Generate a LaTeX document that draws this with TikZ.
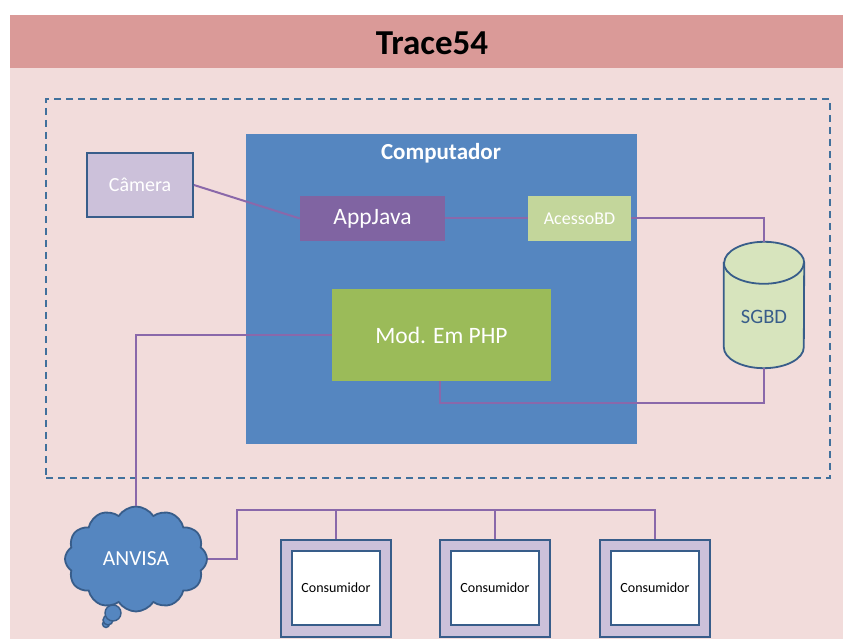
\documentclass[tikz,border=0pt]{standalone}
\usepackage{fontspec}
\setmainfont{Carlito}
\usetikzlibrary{shapes.symbols}
\definecolor{hdr}{HTML}{DA9A98}
\definecolor{bgp}{HTML}{F2DCDB}
\definecolor{dash}{HTML}{41719C}
\definecolor{compb}{HTML}{5586C0}
\definecolor{bord}{HTML}{385D8A}
\definecolor{camf}{HTML}{CCC1DA}
\definecolor{appf}{HTML}{8064A2}
\definecolor{accf}{HTML}{C3D69B}
\definecolor{phpf}{HTML}{9BBB59}
\definecolor{sgf}{HTML}{D7E4BD}
\definecolor{wire}{HTML}{8A68AA}
\tikzset{
  box/.style={rectangle, inner sep=0pt, text=white},
  wirel/.style={draw=wire, line width=2pt},
  outerc/.style={rectangle, draw=bord, line width=1.8pt, fill=camf, minimum width=110pt, minimum height=97pt, inner sep=0pt},
  innerc/.style={rectangle, draw=bord, line width=1.8pt, fill=white, minimum width=88pt, minimum height=74pt, inner sep=0pt, font=\fontsize{14}{16}\selectfont},
  bubble/.style={fill=compb, draw=bord, line width=1.4pt},
}
\begin{document}
\begin{tikzpicture}[x=1pt,y=1pt]
\useasboundingbox (0,0) rectangle (843,639);
\fill[white] (0,0) rectangle (843,639);
\fill[bgp] (10,0) rectangle (843,571);
\fill[hdr] (10,571) rectangle (843,624);
\node[font=\fontsize{35}{40}\selectfont\bfseries] (title) at (432,596) {Trace54};
% dashed boundary
\node[rectangle, draw=dash, line width=1.8pt, dash pattern=on 7pt off 5pt, minimum width=784pt, minimum height=379pt, inner sep=0pt] (sys) at (438,350.5) {};
% computer
\node[box, fill=compb, minimum width=391pt, minimum height=310pt] (comp) at (441.5,350) {};
\node[text=white, font=\fontsize{23}{26}\selectfont\bfseries] (comptitle) at (441,486) {Computador};
% components
\node[box, fill=camf, draw=bord, line width=1.8pt, minimum width=106pt, minimum height=64pt, font=\fontsize{20}{24}\selectfont] (cam) at (140,454) {Câmera};
\node[box, fill=appf, minimum width=145pt, minimum height=45pt, font=\fontsize{23.5}{26}\selectfont] (app) at (372.5,420.5) {AppJava};
\node[box, fill=accf, minimum width=103pt, minimum height=45pt, font=\fontsize{18}{20}\selectfont] (acc) at (579.5,420.5) {AcessoBD};
\node[box, fill=phpf, minimum width=219pt, minimum height=92pt, font=\fontsize{23.5}{26}\selectfont] (php) at (441.5,304) {Mod. Em PHP};
% SGBD cylinder
\node[rectangle, inner sep=0pt, minimum width=80pt, minimum height=126pt] (sgbd) at (764,334) {};
\filldraw[fill=sgf, draw=bord, line width=1.8pt]
  ([yshift=-21pt]sgbd.north west) -- ([yshift=21pt]sgbd.south west)
  arc[start angle=180, end angle=360, x radius=40pt, y radius=21pt]
  -- ([yshift=-21pt]sgbd.north east)
  arc[start angle=0, end angle=180, x radius=40pt, y radius=21pt] -- cycle;
\draw[draw=bord, line width=1.8pt] ([yshift=-21pt]sgbd.north west)
  arc[start angle=180, end angle=360, x radius=40pt, y radius=21pt];
\node[text=bord, font=\fontsize{20.5}{24}\selectfont] (sgbdlabel) at (764,322) {SGBD};
% ANVISA cloud
\filldraw[bubble] (106,15) circle[radius=3.5pt];
\filldraw[bubble] (108,19) circle[radius=5pt];
\filldraw[bubble] (113,26) circle[radius=8pt];
\node[cloud, cloud puffs=12, cloud puff arc=115, cloud ignores aspect, fill=compb, draw=bord, line width=1.8pt, minimum width=142pt, minimum height=105pt, inner sep=0pt, text=white, font=\fontsize{21.5}{24}\selectfont] (anvisa) at (136,80) {ANVISA};
% consumers
\node[outerc] (c1o) at (336,50.5) {};
\node[innerc] (c1) at (336,51) {Consumidor};
\node[outerc] (c2o) at (495,50.5) {};
\node[innerc] (c2) at (495,51) {Consumidor};
\node[outerc] (c3o) at (655,50.5) {};
\node[innerc] (c3) at (655,51) {Consumidor};
\coordinate (bus) at (655,129);
% connectors
\draw[wirel] (cam.east) -- (app.west);
\draw[wirel] (app.east) -- (acc.west);
\draw[wirel] (acc.east) -| (sgbd.north);
\draw[wirel] (sgbd.south) -- ++(0,-35) -| ([xshift=-1.5pt]php.south);
\draw[wirel] (php.west) -| (anvisa.north);
\draw[wirel] (anvisa.east) -- ++(29,0) |- (c3o.north |- bus) -- (c3o.north);
\draw[wirel] (c1o.north |- bus) -- (c1o.north);
\draw[wirel] (c2o.north |- bus) -- (c2o.north);
\end{tikzpicture}
\end{document}
